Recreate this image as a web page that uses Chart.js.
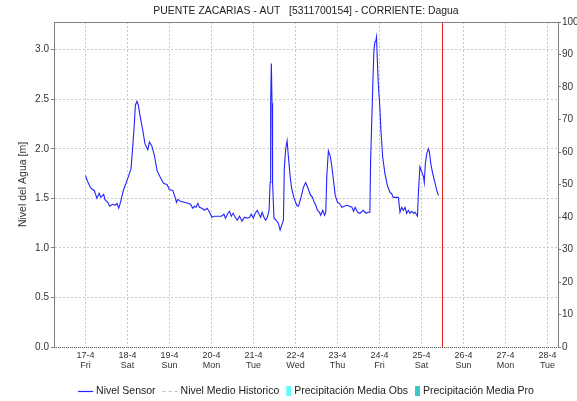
<!DOCTYPE html>
<html lang="es">
<head>
<meta charset="UTF-8">
<title>Puente Zacarias - Nivel del Agua</title>
<script src="https://cdn.jsdelivr.net/npm/chart.js@4.4.1/dist/chart.umd.min.js"></script>
<style>
    html, body { margin: 0; padding: 0; background: #ffffff; }
    .grafico { width: 577px; height: 401px; }
</style>
</head>
<body>
<div class="grafico">
    <canvas id="chartNivel" width="577" height="401"></canvas>
</div>

<script>
    var titulo = 'PUENTE ZACARIAS - AUT   [5311700154] - CORRIENTE: Dagua';

    // horas desde 17-4 00:00
    var horas = [
        0, 1.2, 3.1, 5.0, 6.5, 7.8, 8.8, 10.4, 11.1, 12.7, 13.8, 15.5, 17.0, 18.0, 19.0, 20.3,
        21.6, 23.1, 24.7, 26.0, 27.0, 27.9, 28.5, 29.4, 30.2, 31.3, 32.7, 34.0, 35.6, 36.5, 37.9,
        39.4, 40.9, 42.8, 44.7, 46.6, 47.9, 49.9, 51.2, 52.0, 52.8, 54.2, 56.5, 58.5, 60.0, 61.3,
        62.3, 63.2, 64.2, 65.1, 66.5, 68.0, 69.5, 70.9, 72.2, 73.7, 75.7, 77.6, 79.1, 80.0, 81.4,
        82.3, 83.3, 84.3, 85.6, 86.7, 88.0, 89.4, 90.9, 92.4, 93.8, 94.7, 95.9, 97.0, 98.2, 99.2,
        100.1, 100.9, 102.0, 102.9, 103.9, 104.9, 105.5, 105.8, 106.2, 106.6, 106.9, 107.7, 108.9,
        110.2, 111.2, 112.1, 113.1, 113.6, 114.4, 115.2, 115.9, 116.9, 117.8, 119.2, 120.7, 121.7,
        123.0, 124.5, 125.8, 127.0, 128.4, 129.7, 130.7, 131.6, 132.5, 133.7, 134.4, 135.6, 136.6,
        137.3, 137.9, 138.8, 139.8, 140.7, 141.7, 142.7, 144.0, 145.1, 146.5, 147.8, 149.3, 150.9,
        152.2, 153.2, 154.1, 155.5, 156.8, 158.7, 160.2, 161.6, 162.5, 162.9, 163.6, 164.2, 164.8,
        165.4, 165.9, 166.3, 166.7, 167.3, 168.2, 168.8, 169.8, 171.1, 172.5, 174.0, 174.9, 175.9,
        177.8, 178.8, 179.7, 180.7, 181.6, 182.6, 183.5, 184.5, 185.4, 186.4, 187.4, 188.3, 189.7,
        190.2, 191.1, 192.1, 193.1, 193.6, 194.2, 195.0, 195.9, 196.5, 197.3, 198.4, 199.7, 200.7,
        201.7
    ];
    var nivel = [
        1.73, 1.67, 1.60, 1.58, 1.50, 1.55, 1.51, 1.54, 1.49, 1.46, 1.42, 1.44, 1.43, 1.45, 1.40, 1.48,
        1.58, 1.65, 1.73, 1.80, 2.02, 2.25, 2.44, 2.48, 2.44, 2.32, 2.19, 2.05, 1.99, 2.07, 2.03,
        1.93, 1.78, 1.71, 1.65, 1.64, 1.59, 1.58, 1.51, 1.46, 1.49, 1.47, 1.46, 1.45, 1.44, 1.40,
        1.42, 1.41, 1.45, 1.41, 1.40, 1.38, 1.40, 1.36, 1.31, 1.32, 1.32, 1.32, 1.34, 1.30, 1.35,
        1.37, 1.32, 1.35, 1.31, 1.28, 1.32, 1.27, 1.31, 1.30, 1.31, 1.34, 1.30, 1.35, 1.38, 1.34,
        1.31, 1.36, 1.31, 1.28, 1.31, 1.38, 1.66, 2.46, 2.86, 2.46, 1.66, 1.30, 1.28,
        1.25, 1.18, 1.23, 1.28, 1.80, 2.00, 2.08, 1.93, 1.73, 1.60, 1.50, 1.43, 1.42,
        1.50, 1.61, 1.66, 1.61, 1.54, 1.51, 1.46, 1.43, 1.38, 1.36, 1.33, 1.38, 1.33,
        1.36, 1.73, 1.98, 1.93, 1.83, 1.68, 1.53, 1.46, 1.45, 1.41, 1.42, 1.43, 1.42,
        1.41, 1.37, 1.41, 1.36, 1.35, 1.38, 1.35, 1.36, 1.36, 1.87, 2.29, 2.66, 2.99,
        3.08, 3.09, 3.13, 2.93, 2.66, 2.42, 2.19, 1.92, 1.75, 1.63, 1.56, 1.55, 1.51,
        1.51, 1.51, 1.36, 1.41, 1.38, 1.41, 1.35, 1.38, 1.35, 1.37, 1.35, 1.36, 1.32,
        1.55, 1.82, 1.77, 1.72, 1.66, 1.85, 1.95, 2.00, 1.97, 1.85, 1.75, 1.66, 1.58,
        1.53
    ];

    var horasTicks = [0, 24, 48, 72, 96, 120, 144, 168, 192, 216, 240, 264];
    var fechas = ['17-4', '18-4', '19-4', '20-4', '21-4', '22-4', '23-4', '24-4', '25-4', '26-4', '27-4', '28-4'];
    var dias = ['Fri', 'Sat', 'Sun', 'Mon', 'Tue', 'Wed', 'Thu', 'Fri', 'Sat', 'Sun', 'Mon', 'Tue'];
    var ticksNivel = [0, 0.5, 1.0, 1.5, 2.0, 2.5, 3.0];
    var ticksPrecip = [0, 10, 20, 30, 40, 50, 60, 70, 80, 90, 100];
    var nivelMax = 3.28;
    var horaActual = 204; // 25-4 12:00

    var fuente = '"Liberation Sans", Arial, sans-serif';
    Chart.defaults.font.family = fuente;
    Chart.defaults.color = '#333333';

    // titulo, borde superior, eje inferior punteado y leyenda
    const extras = {
        id: 'extras',
        afterDatasetsDraw(chart) {
            const ctx = chart.ctx;
            const area = chart.chartArea;
            ctx.save();
            ctx.lineWidth = 1;
            ctx.strokeStyle = '#808080';
            ctx.beginPath();
            ctx.moveTo(area.left, area.top + 0.5);
            ctx.lineTo(area.right, area.top + 0.5);
            ctx.stroke();

            ctx.strokeStyle = '#666666';
            ctx.setLineDash([1, 1]);
            ctx.beginPath();
            ctx.moveTo(area.left, area.bottom + 0.5);
            ctx.lineTo(area.right, area.bottom + 0.5);
            ctx.stroke();
            ctx.restore();
        },
        afterDraw(chart) {
            const ctx = chart.ctx;
            const area = chart.chartArea;
            const centro = (area.left + area.right) / 2;
            ctx.save();
            ctx.fillStyle = '#222222';
            ctx.font = '10.4px ' + fuente;
            ctx.textAlign = 'center';
            ctx.textBaseline = 'middle';
            ctx.fillText(titulo, centro, 11);

            // leyenda
            ctx.font = '10.5px ' + fuente;
            ctx.textAlign = 'left';
            const items = chart.data.datasets.filter(function (ds) {
                return ds.enLeyenda !== false;
            }).map(function (ds) {
                const caja = ds.type === 'bar';
                return {
                    texto: ds.label,
                    caja: caja,
                    color: caja ? ds.backgroundColor : ds.borderColor,
                    dash: ds.borderDash || [],
                    ancho: caja ? 5 : 15,
                    textoAncho: ctx.measureText(ds.label).width
                };
            });
            const separacion = 7;
            let total = 0;
            items.forEach(function (it, i) {
                total += it.ancho + 3 + it.textoAncho + (i > 0 ? separacion : 0);
            });
            let x = centro - total / 2;
            const y = 391;
            items.forEach(function (it) {
                if (it.caja) {
                    ctx.fillStyle = it.color;
                    ctx.fillRect(x, y - 5, it.ancho, 10);
                } else {
                    ctx.strokeStyle = it.color;
                    ctx.lineWidth = 1.2;
                    ctx.setLineDash(it.dash);
                    ctx.beginPath();
                    ctx.moveTo(x, y + 0.5);
                    ctx.lineTo(x + it.ancho, y + 0.5);
                    ctx.stroke();
                    ctx.setLineDash([]);
                }
                x += it.ancho + 3;
                ctx.fillStyle = '#222222';
                ctx.fillText(it.texto, x, y + 0.5);
                x += it.textoAncho + separacion;
            });
            ctx.restore();
        }
    };

    function carregarGrafico() {
        const dataNivel = {
            datasets: [{
                label: 'Nivel Sensor',
                type: 'line',
                data: horas.map(function (h, i) { return { x: h, y: nivel[i] }; }),
                borderColor: '#2222ff',
                borderWidth: 1.1,
                pointRadius: 0,
                tension: 0,
                yAxisID: 'y'
            }, {
                label: 'Nivel Medio Historico',
                type: 'line',
                data: [],
                borderColor: '#c0c0c0',
                borderDash: [3, 3],
                borderWidth: 1,
                pointRadius: 0,
                yAxisID: 'y'
            }, {
                label: 'Precipitación Media Obs',
                type: 'bar',
                data: [],
                backgroundColor: '#5ffcfc',
                yAxisID: 'y1'
            }, {
                label: 'Precipitación Media Pro',
                type: 'bar',
                data: [],
                backgroundColor: '#3cc8c8',
                yAxisID: 'y1'
            }, {
                label: 'Hora actual',
                type: 'line',
                enLeyenda: false,
                data: [{ x: horaActual, y: 0 }, { x: horaActual, y: nivelMax }],
                borderColor: 'rgb(230, 30, 30)',
                borderWidth: 1,
                pointRadius: 0,
                yAxisID: 'y'
            }]
        };

        const configNivel = {
            type: 'line',
            data: dataNivel,
            options: {
                responsive: false,
                animation: false,
                layout: { padding: { top: 22, bottom: 24, left: 0, right: 0 } },
                plugins: {
                    legend: { display: false },
                    title: { display: false },
                    tooltip: { enabled: false }
                },
                scales: {
                    x: {
                        type: 'linear',
                        offset: false,
                        min: -18,
                        max: 270,
                        afterBuildTicks: function (scale) {
                            scale.ticks = horasTicks.map(function (h) { return { value: h }; });
                        },
                        afterFit: function (scale) { scale.height = 30; },
                        ticks: {
                            autoSkip: false,
                            maxRotation: 0,
                            padding: 4,
                            color: '#333333',
                            font: { size: 9, lineHeight: 1.1 },
                            callback: function (value) {
                                const i = horasTicks.indexOf(value);
                                return i < 0 ? '' : [fechas[i], dias[i]];
                            }
                        },
                        grid: { offset: false, color: '#c8c8c8', lineWidth: 1, drawTicks: false },
                        border: { display: false, dash: [2, 2] }
                    },
                    y: {
                        position: 'left',
                        min: 0,
                        max: nivelMax,
                        afterBuildTicks: function (scale) {
                            scale.ticks = ticksNivel.map(function (v) { return { value: v }; });
                        },
                        afterFit: function (scale) { scale.width = 54; },
                        title: {
                            display: true,
                            text: 'Nivel del Agua [m]',
                            color: '#333333',
                            font: { size: 10.5 },
                            padding: { top: 17, bottom: 0 }
                        },
                        ticks: {
                            padding: 2,
                            color: '#333333',
                            font: { size: 10 },
                            callback: function (value) { return value.toFixed(1); }
                        },
                        grid: {
                            color: '#c8c8c8',
                            lineWidth: 1,
                            tickLength: 3,
                            tickColor: '#808080',
                            tickBorderDash: []
                        },
                        border: { display: true, color: '#808080', width: 1, dash: [2, 2] }
                    },
                    y1: {
                        position: 'right',
                        min: 0,
                        max: 100,
                        afterBuildTicks: function (scale) {
                            scale.ticks = ticksPrecip.map(function (v) { return { value: v }; });
                        },
                        afterFit: function (scale) { scale.width = 19; },
                        ticks: {
                            padding: 1,
                            color: '#333333',
                            font: { size: 10 }
                        },
                        grid: {
                            drawOnChartArea: false,
                            tickLength: 3,
                            tickColor: '#808080'
                        },
                        border: { display: true, color: '#808080', width: 1 }
                    }
                }
            },
            plugins: [extras]
        };

        var myChartNivel = new Chart(
            document.getElementById('chartNivel'),
            configNivel
        );
    }

    carregarGrafico();
</script>
</body>
</html>
